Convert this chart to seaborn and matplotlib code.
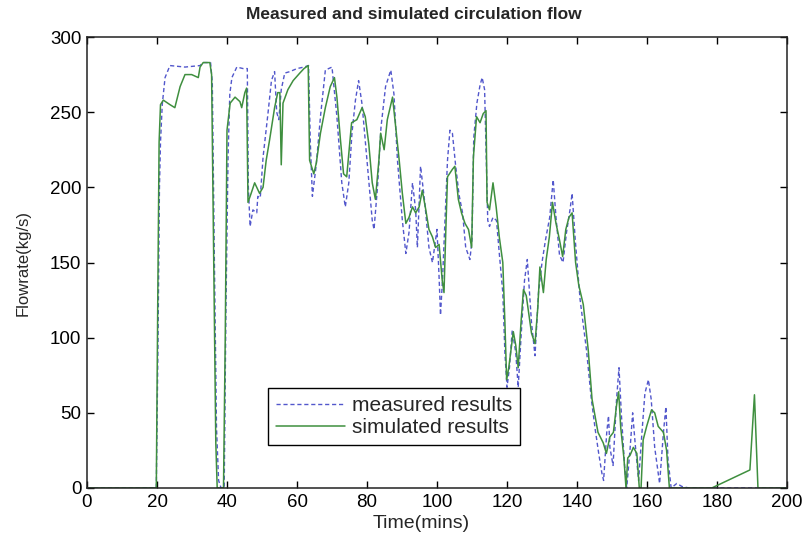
import numpy as np
import pandas as pd
import matplotlib
matplotlib.use("Agg")
import matplotlib.pyplot as plt
import seaborn as sns

# ---- data ----
sim_t = [0, 19.8, 20.2, 20.6, 21.0, 21.8, 23.7, 25.1, 26.6, 28.0, 29.9, 31.8, 32.3, 33.2, 35.1,
         35.6, 36.2, 36.8, 37.2, 39.0, 39.5, 40.0, 40.9, 42.3, 43.7, 44.2, 45.1, 45.6, 46.0,
         46.9, 47.9, 49.3, 50.3, 51.2, 52.2, 53.6, 54.5, 55.1, 55.5, 56.0, 57.4, 58.9, 60.8,
         62.0, 63.2, 63.6, 64.8, 65.5, 66.7, 68.1, 69.5, 70.7, 71.4, 72.4, 73.3, 74.2, 75.6,
         77.1, 78.6, 79.5, 80.5, 81.5, 82.4, 83.4, 83.9, 84.9, 85.8, 87.3, 88.2, 89.2, 90.1,
         91.1, 92.0, 93.0, 93.9, 94.9, 95.8, 96.8, 97.7, 98.7, 99.6, 100.6, 101.5, 102.0,
         102.5, 103.0, 104.4, 105.1, 106.1, 107.0, 108.0, 109.0, 109.9, 110.4, 111.3, 112.3,
         113.2, 114.0, 114.3, 115.0, 116.0, 116.9, 117.8, 118.8, 119.4, 119.9, 120.5, 121.8,
         122.5, 123.2, 124.0, 124.7, 125.5, 127.0, 128.0, 128.8, 129.4, 130.4, 131.2, 132.1,
         133.0, 134.0, 135.0, 135.9, 136.8, 137.7, 138.6, 139.6, 140.5, 141.8, 143.2, 144.3,
         146.0, 147.5, 148.4, 149.4, 150.4, 151.3, 151.9, 152.5, 153.4, 154.0, 154.5, 155.2,
         156.1, 157.1, 157.8, 158.3, 158.9, 159.9, 161.3, 162.2, 163.2, 164.7, 165.6, 166.4,
         178.5, 189.4, 190.7, 191.7, 200]
sim_v = [0, 0, 120, 230, 255, 258, 255, 253, 267, 275, 275, 273, 280, 283, 283,
         275, 150, 30, 0, 0, 100, 238, 256, 260, 257, 253, 263, 266, 190,
         196, 203, 196, 200, 218, 232, 253, 263, 263, 215, 256, 265, 271, 276,
         279, 281, 218, 209, 216, 236, 253, 267, 273, 260, 232, 209, 207, 243,
         245, 253, 247, 229, 203, 192, 218, 236, 225, 245, 260, 240, 218, 196,
         176, 180, 187, 183, 187, 198, 185, 172, 167, 160, 162, 138, 130,
         170, 207, 212, 214, 192, 183, 176, 172, 160, 220, 247, 243,
         249, 251, 190, 185, 203, 187, 167, 150, 110, 72, 80, 104,
         95, 80, 110, 132, 128, 103, 96, 120, 147, 130, 152, 167,
         190, 176, 165, 154, 172, 180, 183, 150, 135, 122, 92, 59,
         37, 30, 23, 34, 37, 55, 64, 40, 20, 0, 20, 22,
         27, 23, 0, 0, 32, 41, 52, 50, 41, 37, 25, 0,
         0, 12, 62, 0, 0]

meas_t = [0, 19.8, 20.3, 20.7, 21.0, 21.5, 22.3, 23.0, 23.7, 28.0, 32.3, 33.2, 35.3, 35.8, 36.4,
          37.0, 37.6, 38.3, 39.2, 39.7, 40.3, 40.8, 41.4, 42.8, 44.6, 45.8, 46.1, 46.6, 47.4,
          48.5, 48.8, 49.5, 50.3, 51.7, 52.7, 53.6, 54.2, 54.8, 55.5, 56.5, 58.0, 60.0, 62.0,
          63.3, 63.8, 64.4, 65.5, 66.7, 68.1, 70.0, 71.4, 72.8, 73.8, 74.8, 75.7, 76.7, 77.6,
          78.6, 80.0, 81.5, 82.0, 83.0, 84.0, 85.3, 86.8, 87.7, 88.7, 90.1, 91.1, 92.0, 93.0,
          93.9, 94.4, 95.3, 96.5, 97.7, 98.7, 100.0, 100.6, 101.0, 101.6, 103.0, 103.7, 104.4,
          105.3, 106.3, 107.3, 108.2, 109.4, 110.0, 110.5, 111.4, 112.3, 112.9, 113.6, 114.5,
          115.0, 116.0, 117.0, 117.8, 118.8, 119.4, 120.0, 120.7, 121.5, 122.5, 123.2, 124.0,
          125.0, 125.8, 127.0, 128.0, 129.0, 130.0, 131.0, 132.2, 133.2, 134.0, 135.0, 136.0,
          137.0, 138.0, 138.6, 139.5, 140.9, 142.7, 144.1, 145.2, 146.2, 147.1, 147.6, 148.5,
          149.0, 149.4, 150.3, 151.3, 152.0, 152.7, 153.6, 154.2, 155.2, 155.9, 156.6, 157.6,
          158.5, 159.4, 160.4, 161.2, 162.2, 163.6, 164.7, 165.4, 166.0, 166.9, 168.5, 170.0,
          172.0, 200]
meas_v = [0, 0, 100, 200, 230, 255, 273, 277, 281, 280, 281, 283, 283, 270, 150,
          40, 5, 0, 0, 120, 220, 262, 273, 280, 279, 279, 200, 174, 185,
          183, 194, 193, 220, 249, 271, 277, 250, 245, 265, 276, 277, 279, 280,
          281, 230, 194, 215, 247, 278, 280, 247, 203, 187, 203, 236, 258, 271,
          255, 218, 178, 172, 200, 240, 267, 278, 262, 218, 178, 156, 170, 203,
          185, 160, 214, 190, 160, 150, 172, 140, 115, 140, 218, 238, 236,
          215, 195, 183, 160, 152, 165, 233, 256, 268, 273, 265, 178,
          174, 180, 178, 156, 130, 90, 67, 80, 105, 90, 67, 100,
          138, 152, 110, 88, 130, 150, 165, 180, 205, 180, 155, 150,
          170, 185, 196, 165, 125, 92, 59, 39, 23, 10, 5, 37,
          48, 27, 15, 59, 80, 48, 15, 0, 27, 50, 30, 5,
          35, 63, 72, 59, 27, 3, 37, 54, 19, 0, 3, 1,
          0, 0]

x_ticks = [0, 20, 40, 60, 80, 100, 120, 140, 160, 180, 200]
y_ticks = [0, 50, 100, 150, 200, 250, 300]
title = "Measured and simulated circulation flow"
x_label = "Time(mins)"
y_label = "Flowrate(kg/s)"
labels = ["measured results", "simulated results"]

meas_df = pd.DataFrame({"t": meas_t, "v": meas_v})
sim_df = pd.DataFrame({"t": sim_t, "v": sim_v})

sns.set_style("ticks")
plt.rcParams["font.family"] = ["Liberation Sans", "DejaVu Sans"]

fig = plt.figure(figsize=(8.08, 5.38), dpi=100)
ax = fig.add_axes([87 / 808, 1 - 488 / 538, 700 / 808, 451 / 538])

MEAS_C = "#5257cc"
SIM_C = "#3f8f3f"

sns.lineplot(data=meas_df, x="t", y="v", ax=ax, color=MEAS_C, linewidth=1.0,
             label=labels[0], estimator=None, sort=False)
ax.lines[-1].set_dashes([3.0, 2.0])
sns.lineplot(data=sim_df, x="t", y="v", ax=ax, color=SIM_C, linewidth=1.1,
             label=labels[1], estimator=None, sort=False)

ax.set_xlim(0, 200)
ax.set_ylim(0, 300)
ax.set_xticks(x_ticks)
ax.set_yticks(y_ticks)
ax.set_xticklabels([str(v) for v in x_ticks])
ax.set_yticklabels([str(v) for v in y_ticks])
ax.tick_params(direction="in", length=5, width=1, top=True, right=True,
               labelsize=13.5, colors="black", pad=4)
for s in ax.spines.values():
    s.set_visible(True)
    s.set_color("#222222")
    s.set_linewidth(1.1)

ax.set_title(title, fontsize=12.5, fontweight="bold", pad=13, x=0.467)
ax.set_xlabel(x_label, fontsize=14, labelpad=2)
ax.set_ylabel(y_label, fontsize=12, labelpad=14)
ax.xaxis.set_label_coords(0.478, -0.06)

leg = ax.legend(loc="upper left", bbox_to_anchor=(0.2586, 0.2217), borderaxespad=0,
                fontsize=15, frameon=True, fancybox=False, handlelength=3.3,
                handletextpad=0.35, borderpad=0.38, labelspacing=0.15)
leg.get_frame().set_edgecolor("black")
leg.get_frame().set_linewidth(1.0)
leg.get_frame().set_alpha(1)

fig.savefig("out.png", dpi=100)
